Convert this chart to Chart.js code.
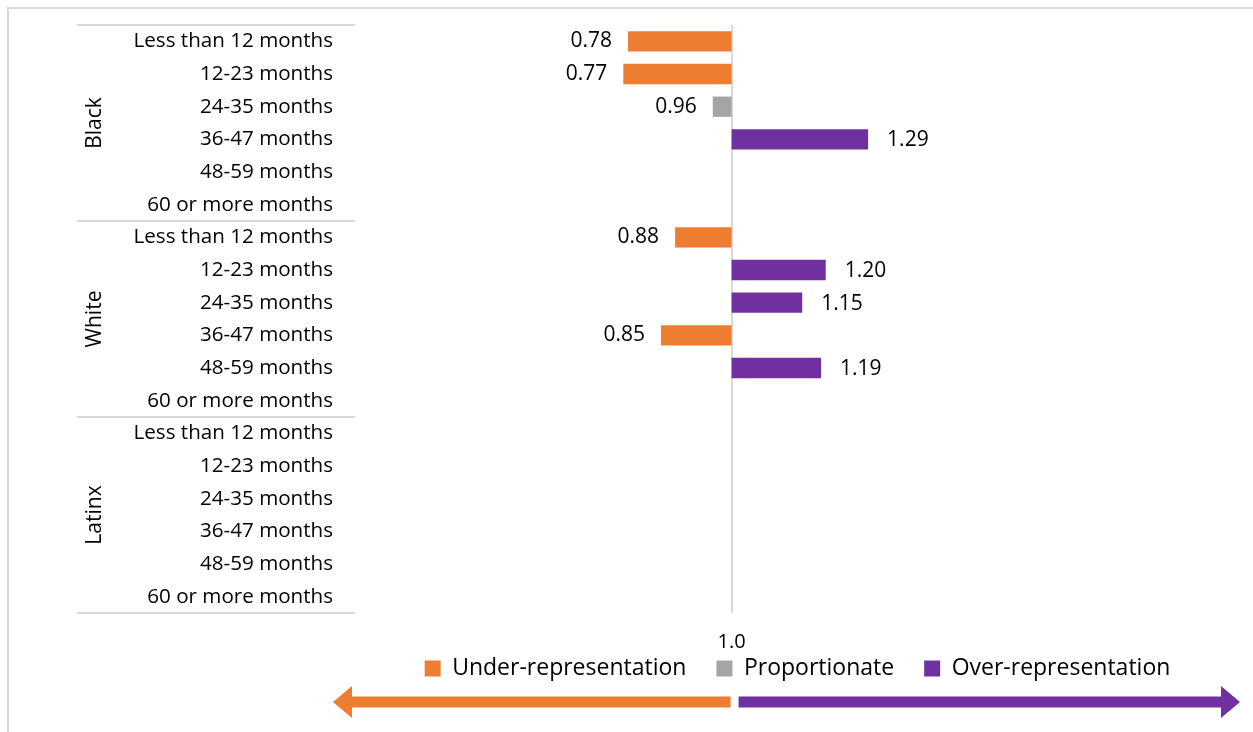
<!DOCTYPE html>
<html>
<head>
<meta charset="utf-8">
<script src="https://cdn.jsdelivr.net/npm/chart.js@4/dist/chart.umd.min.js"></script>
<style>
    html, body { margin: 0; padding: 0; background: #fff; }
    #wrap { position: relative; width: 1253px; height: 732px; }
</style>
</head>
<body>
<div id="wrap"><canvas id="chartRatio"></canvas></div>
<script>
// kelompok ras dan lama waktu (kategori sumbu y)
const groups = ["Black", "White", "Latinx"];
const durations = [
    "Less than 12 months", "12-23 months", "24-35 months",
    "36-47 months", "48-59 months", "60 or more months"
];

// rasio per baris (null = tidak ada batang)
const underValues = [
    0.78, 0.77, null, null, null, null,
    0.88, null, null, 0.85, null, null,
    null, null, null, null, null, null
];
const proportionateValues = [
    null, null, 0.96, null, null, null,
    null, null, null, null, null, null,
    null, null, null, null, null, null
];
const overValues = [
    null, null, null, 1.29, null, null,
    null, 1.20, 1.15, null, 1.19, null,
    null, null, null, null, null, null
];

const seriesNames = ["Under-representation", "Proportionate", "Over-representation"];
const seriesColors = ["#ED7D31", "#A5A5A5", "#7030A0"];
const baseline = 1;

const labels = [];
groups.forEach(g => durations.forEach(d => labels.push(g + " | " + d)));

const FONT = "'Open Sans', sans-serif";
Chart.defaults.font.family = FONT;
Chart.defaults.font.size = 20.6;
Chart.defaults.color = "#000";

const allSeries = [underValues, proportionateValues, overValues];

const decorations = {
    id: "decorations",
    beforeDraw(chart) {
        const ctx = chart.ctx;
        ctx.save();
        ctx.strokeStyle = "#d9d9d9";
        ctx.lineWidth = 2;
        ctx.beginPath();
        ctx.moveTo(8, chart.height);
        ctx.lineTo(8, 8);
        ctx.lineTo(chart.width, 8);
        ctx.stroke();
        ctx.restore();
    },
    afterDatasetsDraw(chart) {
        const ctx = chart.ctx;
        const xs = chart.scales.x;
        ctx.save();
        ctx.font = "21px " + FONT;
        ctx.fillStyle = "#000";
        ctx.textBaseline = "middle";
        allSeries.forEach((values, i) => {
            const meta = chart.getDatasetMeta(i);
            meta.data.forEach((bar, j) => {
                const v = values[j];
                if (v == null) return;
                const px = xs.getPixelForValue(v);
                if (v < baseline) {
                    ctx.textAlign = "right";
                    ctx.fillText(v.toFixed(2), px - 16, bar.y);
                } else {
                    ctx.textAlign = "left";
                    ctx.fillText(v.toFixed(2), px + 19, bar.y + 1);
                }
            });
        });
        ctx.restore();
    },
    afterDraw(chart) {
        const ctx = chart.ctx;
        const ys = chart.scales.y;
        const xs = chart.scales.x;
        const area = chart.chartArea;
        ctx.save();

        // garis pemisah kelompok + label kelompok
        ctx.strokeStyle = "#d9d9d9";
        ctx.lineWidth = 2;
        for (let k = 0; k <= groups.length; k++) {
            const y = ys.getPixelForValue(k * durations.length - 0.5);
            ctx.beginPath();
            ctx.moveTo(77, y);
            ctx.lineTo(area.left, y);
            ctx.stroke();
        }
        ctx.fillStyle = "#000";
        ctx.font = "21px " + FONT;
        ctx.textAlign = "center";
        ctx.textBaseline = "middle";
        groups.forEach((g, k) => {
            const top = ys.getPixelForValue(k * durations.length - 0.5);
            const bot = ys.getPixelForValue((k + 1) * durations.length - 0.5);
            ctx.save();
            ctx.translate(95, (top + bot) / 2);
            ctx.rotate(-Math.PI / 2);
            ctx.fillText(g, 0, 0);
            ctx.restore();
        });

        // label 1.0 di bawah garis acuan
        const mid = xs.getPixelForValue(baseline);
        ctx.font = "20px " + FONT;
        ctx.fillText("1.0", mid, 642);

        // panah bawah
        const y = chart.height - 30;
        const shaft = 5.5, head = 16, headLen = 19;
        const leftTip = area.left - 22, rightTip = area.right;
        ctx.fillStyle = seriesColors[0];
        ctx.beginPath();
        ctx.moveTo(mid - 1, y - shaft);
        ctx.lineTo(leftTip + headLen, y - shaft);
        ctx.lineTo(leftTip + headLen, y - head);
        ctx.lineTo(leftTip, y);
        ctx.lineTo(leftTip + headLen, y + head);
        ctx.lineTo(leftTip + headLen, y + shaft);
        ctx.lineTo(mid - 1, y + shaft);
        ctx.closePath();
        ctx.fill();
        ctx.fillStyle = seriesColors[2];
        ctx.beginPath();
        ctx.moveTo(mid + 7, y - shaft);
        ctx.lineTo(rightTip - headLen, y - shaft);
        ctx.lineTo(rightTip - headLen, y - head);
        ctx.lineTo(rightTip, y);
        ctx.lineTo(rightTip - headLen, y + head);
        ctx.lineTo(rightTip - headLen, y + shaft);
        ctx.lineTo(mid + 7, y + shaft);
        ctx.closePath();
        ctx.fill();
        ctx.restore();
    }
};

new Chart(document.getElementById("chartRatio"), {
    type: "bar",
    data: {
        labels: labels,
        datasets: allSeries.map((values, idx) => ({
            label: seriesNames[idx],
            data: values.map(v => v == null ? null : [baseline, v]),
            backgroundColor: seriesColors[idx],
            borderWidth: 0,
            grouped: false,
            barPercentage: 0.62,
            categoryPercentage: 1,
        })),
    },
    options: {
        indexAxis: "y",
        responsive: true,
        maintainAspectRatio: false,
        animation: false,
        layout: { padding: { left: 0, top: 25, right: 13, bottom: 42 } },
        plugins: {
            legend: {
                position: "bottom",
                fullSize: false,
                labels: { boxWidth: 16, boxHeight: 16, padding: 30, font: { size: 23 } },
            },
            tooltip: { enabled: false },
        },
        scales: {
            x: {
                min: 0.2,
                max: 2.08,
                grid: { color: "#d9d9d9", lineWidth: 2, drawTicks: false },
                border: { display: false },
                ticks: { display: false },
                afterBuildTicks: (scale) => { scale.ticks = [{ value: baseline }]; },
                afterFit: (scale) => { scale.height = 14; },
            },
            y: {
                grid: { display: false, drawTicks: false },
                border: { display: false },
                ticks: {
                    padding: 22,
                    autoSkip: false,
                    callback: (val, i) => durations[i % durations.length],
                },
                afterFit: (scale) => {
                    scale.width = 355;
                    scale.paddingTop = 0;
                    scale.paddingBottom = 0;
                },
            },
        },
    },
    plugins: [decorations],
});
</script>
</body>
</html>
